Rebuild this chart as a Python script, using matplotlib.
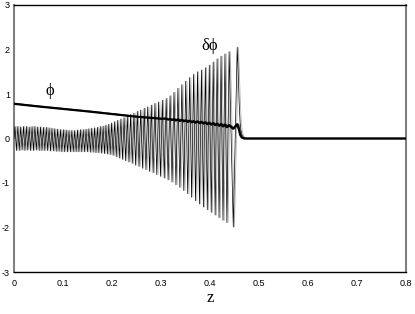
import matplotlib
matplotlib.use("Agg")
import matplotlib.pyplot as plt
import numpy as np

# ---- data ----
# delta-phi: alternating extrema (peak, trough, ...) then decay to zero
dphi_z = [
    0.0000, 0.0020, 0.0049, 0.0078, 0.0107, 0.0136, 0.0165, 0.0194, 0.0223, 0.0252, 0.0281,
    0.0310, 0.0339, 0.0368, 0.0397, 0.0426, 0.0455, 0.0484, 0.0513, 0.0542, 0.0571,
    0.0600, 0.0629, 0.0658, 0.0687, 0.0716, 0.0745, 0.0774, 0.0803, 0.0832, 0.0861,
    0.0890, 0.0919, 0.0948, 0.0977, 0.1006, 0.1035, 0.1064, 0.1093, 0.1122, 0.1151,
    0.1180, 0.1209, 0.1238, 0.1267, 0.1296, 0.1325, 0.1354, 0.1383, 0.1412, 0.1441,
    0.1470, 0.1499, 0.1528, 0.1557, 0.1586, 0.1615, 0.1644, 0.1673, 0.1702, 0.1731,
    0.1760, 0.1789, 0.1818, 0.1847, 0.1876, 0.1905, 0.1934, 0.1963, 0.1992, 0.2023,
    0.2054, 0.2086, 0.2117, 0.2149, 0.2181, 0.2214, 0.2246, 0.2279, 0.2312, 0.2346,
    0.2379, 0.2413, 0.2447, 0.2482, 0.2516, 0.2551, 0.2586, 0.2622, 0.2657, 0.2693,
    0.2729, 0.2766, 0.2802, 0.2839, 0.2876, 0.2914, 0.2951, 0.2989, 0.3027, 0.3066,
    0.3105, 0.3145, 0.3185, 0.3225, 0.3265, 0.3305, 0.3345, 0.3385, 0.3425, 0.3465,
    0.3505, 0.3545, 0.3585, 0.3625, 0.3665, 0.3705, 0.3745, 0.3785, 0.3825, 0.3865,
    0.3905, 0.3945, 0.3985, 0.4025, 0.4065, 0.4105, 0.4145, 0.4185, 0.4225, 0.4265,
    0.4305, 0.4345, 0.4390, 0.4475, 0.4555,
    0.4575, 0.4595, 0.4615, 0.4635, 0.4660, 0.4690, 0.4740, 0.8000,
]
dphi_v = [
    0.00, 0.27, -0.27, 0.27, -0.27, 0.26, -0.26, 0.27, -0.27, 0.27, -0.26,
    0.26, -0.27, 0.27, -0.27, 0.27, -0.26, 0.26, -0.27, 0.26, -0.27,
    0.25, -0.27, 0.25, -0.27, 0.24, -0.28, 0.23, -0.28, 0.22, -0.29,
    0.21, -0.29, 0.20, -0.30, 0.20, -0.30, 0.19, -0.30, 0.18, -0.30,
    0.18, -0.30, 0.18, -0.30, 0.19, -0.30, 0.20, -0.30, 0.20, -0.30,
    0.21, -0.30, 0.22, -0.31, 0.23, -0.31, 0.24, -0.32, 0.25, -0.32,
    0.27, -0.33, 0.28, -0.34, 0.30, -0.35, 0.32, -0.36, 0.35, -0.38,
    0.38, -0.41, 0.41, -0.44, 0.44, -0.47, 0.47, -0.50, 0.50, -0.53,
    0.54, -0.56, 0.57, -0.60, 0.61, -0.63, 0.64, -0.67, 0.68, -0.70,
    0.71, -0.74, 0.75, -0.77, 0.79, -0.81, 0.82, -0.85, 0.86, -0.89,
    0.90, -0.93, 0.96, -0.98, 1.04, -1.04, 1.13, -1.10, 1.21, -1.17,
    1.29, -1.24, 1.37, -1.32, 1.44, -1.40, 1.50, -1.47, 1.54, -1.54,
    1.59, -1.60, 1.65, -1.66, 1.72, -1.72, 1.79, -1.78, 1.85, -1.84,
    1.90, -1.89, 1.95, -1.99, 2.05,
    1.50, 0.80, 0.35, 0.15, 0.06, 0.02, 0.00, 0.00,
]
# second (grey) delta-phi trace lags the black one slightly
dphi_lag = 0.0025

# phi: slowly decreasing line with growing ripple, then drop to zero
phi_z = [0.0, 0.05, 0.10, 0.15, 0.20, 0.25, 0.30,
         0.3105, 0.3145, 0.3185, 0.3225, 0.3265, 0.3305, 0.3345, 0.3385, 0.3425, 0.3465,
         0.3505, 0.3545, 0.3585, 0.3625, 0.3665, 0.3705, 0.3745, 0.3785, 0.3825, 0.3865,
         0.3905, 0.3945, 0.3985, 0.4025, 0.4065, 0.4105, 0.4145, 0.4185, 0.4225, 0.4265,
         0.4305, 0.4345, 0.4390, 0.4470, 0.4555, 0.4590, 0.4620, 0.4650, 0.4700, 0.8]
phi_v = [0.78, 0.72, 0.665, 0.61, 0.55, 0.49, 0.445,
         0.447, 0.425, 0.440, 0.415, 0.435, 0.405, 0.430, 0.395, 0.420, 0.385,
         0.410, 0.375, 0.400, 0.365, 0.390, 0.355, 0.385, 0.345, 0.375, 0.335,
         0.365, 0.320, 0.355, 0.310, 0.345, 0.300, 0.335, 0.285, 0.325, 0.270,
         0.315, 0.255, 0.300, 0.220, 0.320, 0.200, 0.070, 0.020, 0.000, 0.000]

x_ticks = [0, 0.1, 0.2, 0.3, 0.4, 0.5, 0.6, 0.7, 0.8]
x_ticklabels = ["0", "0.1", "0.2", "0.3", "0.4", "0.5", "0.6", "0.7", "0.8"]
y_ticks = [-3, -2, -1, 0, 1, 2, 3]
y_ticklabels = ["-3", "-2", "-1", "0", "1", "2", "3"]

# ---- figure ----
fig = plt.figure(figsize=(4.15, 3.14), dpi=100)
ax = fig.add_axes([14 / 415, 1 - 272 / 314, 392 / 415, 267 / 314])

dz = np.array(dphi_z)
ax.plot(dz + dphi_lag, dphi_v, color="#a8a8a8", lw=0.5, zorder=2)
ax.plot(dz, dphi_v, color="black", lw=0.5, zorder=3)
pz = np.array(phi_z)
ax.plot(pz + dphi_lag, phi_v, color="#555555", lw=1.2, zorder=4)
ax.plot(pz, phi_v, color="black", lw=1.6, zorder=5)

ax.set_xlim(0, 0.8)
ax.set_ylim(-3, 3)
ax.set_xticks(x_ticks)
ax.set_xticklabels(x_ticklabels)
ax.set_yticks(y_ticks)
ax.set_yticklabels(y_ticklabels)
ax.tick_params(length=0, labelsize=6.5)
ax.tick_params(axis="x", pad=5)
ax.tick_params(axis="y", pad=3)
for lab in ax.get_xticklabels() + ax.get_yticklabels():
    lab.set_fontfamily(["Liberation Sans", "DejaVu Sans"])

for side in ["top", "bottom"]:
    ax.spines[side].set_color("black")
    ax.spines[side].set_linewidth(1.0)
for side in ["left", "right"]:
    ax.spines[side].set_color("#808080")
    ax.spines[side].set_linewidth(1.5)

serif = ["Liberation Serif", "DejaVu Serif"]
ax.text(0.0735, 1.07, "\u03d5", ha="center", va="center", fontsize=12, family=serif)
ax.text(0.40, 2.08, "\u03b4\u03d5", ha="center", va="center", fontsize=12, family=serif)
fig.text(210 / 415, 1 - 298 / 314, "z", ha="center", va="center", fontsize=12, family=serif)

fig.savefig("out.png", dpi=100)
